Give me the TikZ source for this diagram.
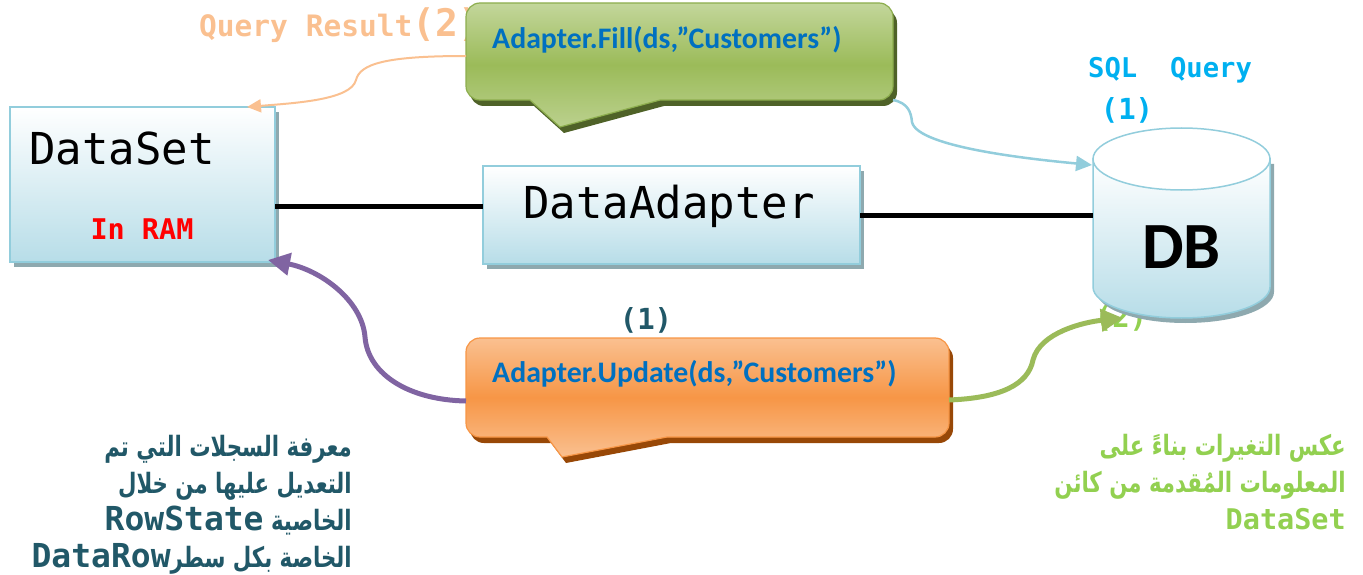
\documentclass[tikz,border=0pt]{standalone}
\usepackage{fontspec}
\setmainfont{Carlito}
\setmonofont{DejaVu Sans Mono}
\newfontfamily\arabicfont[Script=Arabic,FakeStretch=0.76]{DejaVu Sans}
\TeXXeTstate=1
\usetikzlibrary{arrows.meta,shadows}
\definecolor{boxborder}{HTML}{92CDDC}
\definecolor{boxbottom}{HTML}{B7DDE8}
\definecolor{boxshadow}{HTML}{8EA9AF}
\definecolor{calloutblue}{HTML}{0070C0}
\definecolor{peach}{HTML}{FAC090}
\definecolor{darkteal}{HTML}{215868}
\definecolor{cyanq}{HTML}{00B0F0}
\definecolor{lgreen}{HTML}{92D050}
\definecolor{purp}{HTML}{8064A2}
\definecolor{gr}{HTML}{9BBB59}
\definecolor{grtop}{HTML}{C3D69B}
\definecolor{grborder}{HTML}{8DAE4E}
\definecolor{grshadow}{HTML}{4F6228}
\definecolor{ortop}{HTML}{FAC090}
\definecolor{ormid}{HTML}{F79646}
\definecolor{orshadow}{HTML}{984807}
\definecolor{inram}{HTML}{FF0000}
\begin{document}
\begin{tikzpicture}[x=1pt,y=-1pt,
 boxstyle/.style={draw=boxborder,line width=1.5pt,top color=white,bottom color=boxbottom,inner sep=0pt,outer sep=0pt,
   drop shadow={shadow xshift=4pt,shadow yshift=-5pt,fill=boxshadow,opacity=1}},
 calltext/.style={font=\bfseries\fontsize{29.8}{32}\selectfont,text=calloutblue,inner sep=0pt,anchor=west},
 thinpeach/.style={draw=peach,line width=2pt,-{Triangle[length=14pt,width=13pt]}},
 thinblue/.style={draw=boxborder,line width=2.5pt,-{Triangle[length=16pt,width=15pt]}},
 thickpurple/.style={draw=purp,line width=5pt,-{Triangle[length=22pt,width=22pt]}},
 thickgreen/.style={draw=gr,line width=5pt,-{Triangle[length=22pt,width=22pt]}},
 blackline/.style={draw=black,line width=5pt},
 greencall/.style={draw=grborder,line width=1.2pt,top color=grtop,bottom color=grtop!80!gr,middle color=gr},
 orangecall/.style={draw=ormid,line width=1.2pt,top color=ortop,bottom color=ortop,middle color=ormid},
]
\useasboundingbox (0,0) rectangle (1363,575);

% texts partly hidden
\node[anchor=base west,inner sep=0pt,text=peach,font=\ttfamily\bfseries\fontsize{29.5}{32}\selectfont] (qres) at (199,37)
  {Query Result{\fontsize{38}{40}\selectfont(2)}};
\node[inner sep=0pt,text=lgreen,font=\ttfamily\bfseries\fontsize{29}{32}\selectfont] (two) at (1121,318) {(2)};

% DataSet box
\node[boxstyle,minimum width=265pt,minimum height=155pt] (ds) at (142.5,184.5) {};
\node[inner sep=0pt,font=\ttfamily\fontsize{44}{48}\selectfont] (dstitle) at (122,148) {DataSet};
\node[inner sep=0pt,text=inram,font=\ttfamily\bfseries\fontsize{28.5}{32}\selectfont] (ram) at (142,229) {In RAM};

% DataAdapter box
\node[boxstyle,minimum width=377pt,minimum height=98pt] (da) at (671.5,215) {};
\node[inner sep=0pt,font=\ttfamily\fontsize{44}{48}\selectfont] (datitle) at (669,206) {DataAdapter};

% DB cylinder
\fill[boxshadow] (1097,164) -- (1097,292) arc[start angle=180,end angle=0,x radius=88.5,y radius=31] -- (1274,164) -- cycle;
\path[draw=boxborder,line width=1.5pt,top color=white,bottom color=boxbottom]
  (1093,159) -- (1093,287) arc[start angle=180,end angle=0,x radius=88.5,y radius=31] -- (1270,159) -- cycle;
\path[draw=boxborder,line width=1.5pt,fill=white] (1181.5,159) ellipse[x radius=88.5,y radius=31];
\node[inner sep=0pt,minimum width=177pt,font=\bfseries\fontsize{66}{70}\selectfont] (db) at (1181.5,247) {DB};

% labels
\node[inner sep=0pt,text=cyanq,font=\ttfamily\bfseries\fontsize{27.2}{30}\selectfont] (sqlq) at (1170,70) {SQL\ \ Query};
\node[inner sep=0pt,text=cyanq,font=\ttfamily\bfseries\fontsize{29}{32}\selectfont] (one) at (1127,110) {(1)};
\node[inner sep=0pt,text=darkteal,font=\ttfamily\bfseries\fontsize{29}{32}\selectfont] (oneb) at (646,320) {(1)};

% black connectors
\coordinate (dal) at ([yshift=9pt]da.west);
\draw[blackline] (dal -| ds.east) -- (dal);
\draw[blackline] (da.east) -- (da.east -| db.west);

% green callout
\fill[grshadow] (470,56) [rounded corners=14pt] -- (470,9) -- (897,9) -- (897,106) [sharp corners] -- (664,106) -- (564,133) -- (534,106) [rounded corners=14pt] -- (470,106) -- cycle;
\path[greencall] (466,50) [rounded corners=14pt] -- (466,3) -- (893,3) -- (893,100) [sharp corners] -- (660,100) -- (560,127) -- (530,100) [rounded corners=14pt] -- (466,100) -- cycle;
\node[calltext] (filltxt) at (492,40) {Adapter.Fill(ds,”Customers”)};
\coordinate (fillL) at (466,56);
\coordinate (fillBR) at (893,100);

% orange callout
\fill[orshadow] (470,390) [rounded corners=14pt] -- (470,344) -- (953,344) -- (953,443) [sharp corners] -- (671,443) -- (566,463) -- (551,443) [rounded corners=14pt] -- (470,443) -- cycle;
\path[orangecall] (466,385) [rounded corners=14pt] -- (466,338) -- (949,338) -- (949,437) [sharp corners] -- (667,437) -- (562,457) -- (547,437) [rounded corners=14pt] -- (466,437) -- cycle;
\node[calltext] (updtxt) at (492,374) {Adapter.Update(ds,”Customers”)};
\coordinate (updL) at (466,401);
\coordinate (updR) at (949,400);

% arrows
\draw[thinpeach] (fillL) .. controls (385,56) and (360,64) .. (356,80) .. controls (351,100) and (295,103) .. ([xshift=-28pt]ds.north east);
\coordinate (dbtop) at (1092,165);
\draw[thinblue] (fillBR) .. controls (908,103) and (911,112) .. (912,122) .. controls (917,148) and (1040,160) .. (dbtop);
\draw[thickpurple] (updL) .. controls (410,400) and (368,375) .. (365,337) .. controls (362,300) and (320,270) .. ([xshift=-7pt,yshift=2pt]ds.south east);
\coordinate (dbbot) at (1123,318);
\draw[thickgreen] (updR) .. controls (1000,398) and (1028,385) .. (1033,360) .. controls (1040,332) and (1085,322) .. (dbbot);

% Arabic notes
\node[anchor=north east,align=right,inner sep=0pt,text=darkteal,font=\arabicfont\bfseries\fontsize{28}{37}\selectfont] (leftnote) at (352,435)
 {\beginR معرفة السجلات التي تم\endR\\
  \beginR التعديل عليها من خلال\endR\\
  \beginR الخاصية \beginL{\ttfamily\fontsize{33}{37}\selectfont RowState}\endL\endR\\
  \beginR الخاصة بكل سطر\beginL{\ttfamily\fontsize{33}{37}\selectfont DataRow}\endL\endR};
\node[anchor=north east,align=right,inner sep=0pt,text=lgreen,font=\arabicfont\bfseries\fontsize{28}{37}\selectfont] (rightnote) at (1346,434)
 {\beginR عكس التغيرات بناءً على\endR\\
  \beginR المعلومات المُقدمة من كائن\endR\\
  {\ttfamily\fontsize{28.5}{37}\selectfont DataSet}};
\end{tikzpicture}
\end{document}
